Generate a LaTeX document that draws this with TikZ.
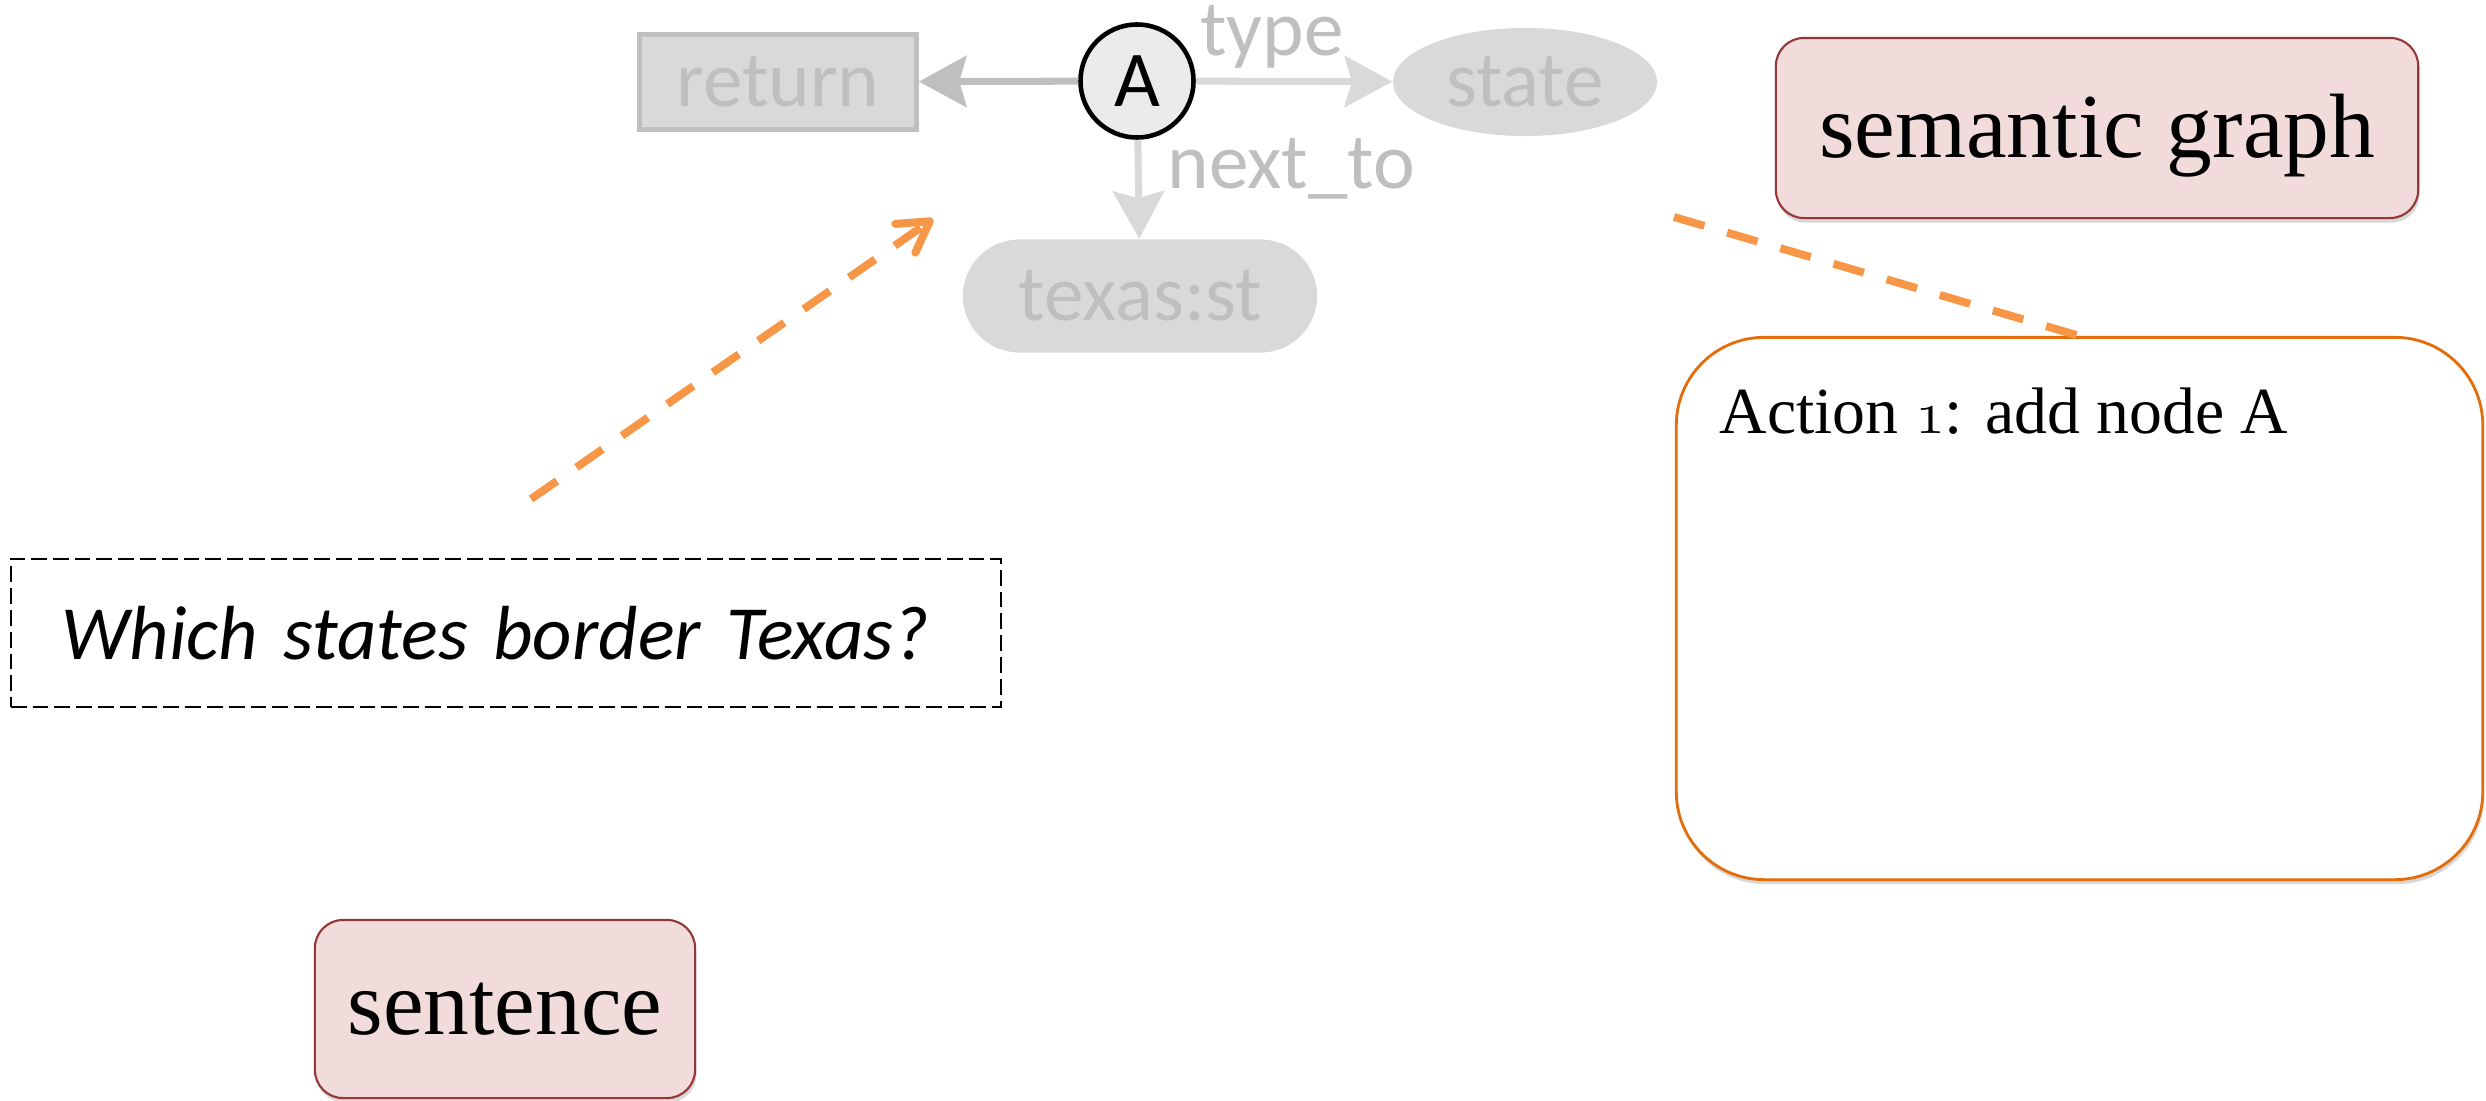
\documentclass[tikz,border=0pt]{standalone}
\usepackage{fontspec}
\setmainfont{Liberation Serif}
\newfontfamily\carlito{Carlito}
\usetikzlibrary{arrows.meta,shapes.geometric,shapes.misc,shadows}

\definecolor{graphfill}{HTML}{D9D9D9}
\definecolor{graphtext}{HTML}{BFBFBF}
\definecolor{nodeAfill}{HTML}{EBEBEB}
\definecolor{tagfill}{HTML}{F2DCDB}
\definecolor{tagline}{HTML}{953735}
\definecolor{panelline}{HTML}{E46C0A}
\definecolor{pointercol}{HTML}{F79646}

\tikzset{
  gfont/.style={font=\carlito\fontsize{22.5}{27}\selectfont, text=graphtext},
  retbox/.style={draw=graphtext, line width=1.3pt, fill=graphfill,
    minimum width=2.77cm, minimum height=0.95cm, inner sep=0pt, gfont},
  varnode/.style={circle, draw=black, line width=1.3pt, fill=nodeAfill,
    minimum size=1.13cm, inner sep=0pt,
    font=\carlito\fontsize{22.5}{27}\selectfont, text=black},
  entnode/.style={ellipse, fill=graphfill, minimum width=2.64cm,
    minimum height=1.08cm, inner sep=0pt, gfont},
  constnode/.style={rounded rectangle, fill=graphfill, minimum width=3.54cm,
    minimum height=1.13cm, inner sep=0pt, gfont},
  gedge/.style={line width=2pt, -{Stealth[length=13.5pt, width=14.5pt, inset=2pt]}},
  elabel/.style={inner sep=0pt, gfont},
  softshadow/.style={drop shadow={shadow xshift=0.4pt, shadow yshift=-1.3pt, opacity=0.3}},
  tagbox/.style={draw=tagline, line width=0.6pt, fill=tagfill, rounded corners=8pt,
    inner sep=0pt, font=\fontsize{26}{31}\selectfont, softshadow},
  panelbox/.style={draw=panelline, line width=0.8pt, fill=white, rounded corners=25pt,
    inner sep=0pt, softshadow},
  querybox/.style={draw=black, line width=0.6pt, dash pattern=on 4.5pt off 1.7pt,
    align=left, inner ysep=0pt, font=\carlito\itshape\fontsize{21.8}{26}\selectfont},
  pointer/.style={draw=pointercol, line width=2.25pt, dash pattern=on 9pt off 6.75pt},
}

\begin{document}
\begin{tikzpicture}[x=0.01cm, y=-0.01cm]
  \fill[white] (0,0) rectangle (2486,1100);
  \useasboundingbox (0,0) rectangle (2486,1100);

  % partial semantic graph
  \node[retbox] (ret) at (778,82) {return};
  \node[varnode] (A) at (1137,81) {A};
  \node[entnode] (state) at (1525,82) {state};
  \node[constnode] (texas) at (1140,296) {texas:st};

  \draw[gedge, draw=graphtext, fill=graphtext] (A) -- (ret);
  \draw[gedge, draw=graphfill, fill=graphfill] (A) -- (state);
  \draw[gedge, draw=graphfill, fill=graphfill] (A) -- (texas);

  \node[elabel, anchor=base] (ltype) at (1272,55) {type};
  \node[elabel, anchor=base west] (lnext) at (1167,188) {next\_to};

  % labels of the two representations
  \node[tagbox, minimum width=6.42cm, minimum height=1.80cm,
        text height=0.62cm, text depth=0.04cm] (sem) at (2097,128) {semantic graph};
  \node[tagbox, minimum width=3.80cm, minimum height=1.78cm] (sent) at (505,1009) {sentence};

  % input question
  \node[querybox, minimum width=9.90cm, minimum height=1.48cm, text width=8.88cm,
        inner xsep=0.51cm] (query) at (506,633) {\mbox{Which states border Texas?}};

  % action panel
  \node[panelbox, minimum width=8.06cm, minimum height=5.42cm] (act) at (2079.5,608.5) {};
  \node[anchor=base west, inner sep=0pt, font=\fontsize{18.7}{22}\selectfont] (acttext)
    at (1719,433) {Action $\mathnormal{1}$: add node A};

  % dashed pointers
  \coordinate (qsrc) at (531,499);
  \coordinate (qdst) at (933,219);
  \coordinate (gsrc) at (1674,217);
  \draw[pointer, -{Straight Barb[length=8.5pt, width=10pt, round]}] (qsrc) -- (qdst);
  \draw[pointer] (gsrc) -- (act.north);
\end{tikzpicture}
\end{document}
